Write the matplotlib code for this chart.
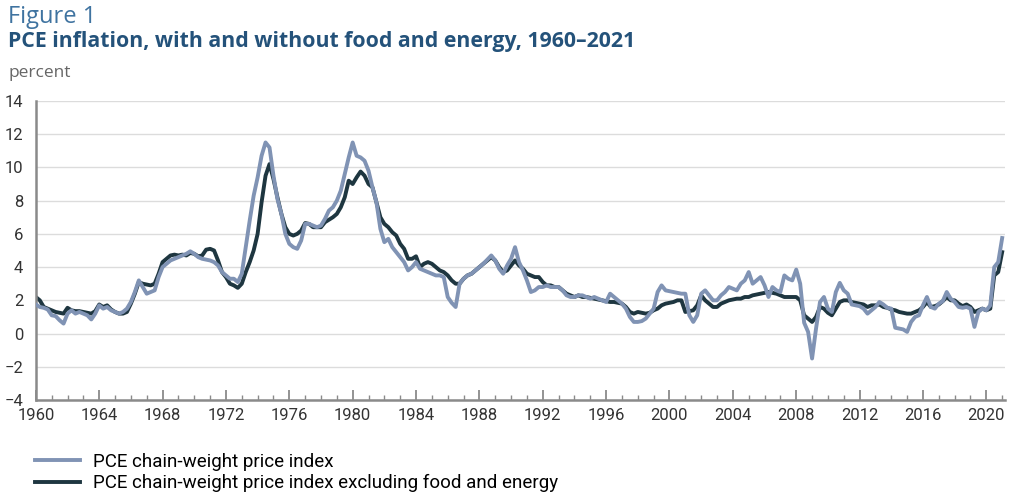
import numpy as np
import matplotlib
matplotlib.use("Agg")
import matplotlib.pyplot as plt
from matplotlib.ticker import MultipleLocator

# quarterly readings, 1960Q1 .. 2021Q1 (year-over-year percent change)
pce_all = [
    1.75, 1.6, 1.55, 1.45,   # 1960
    1.1, 1.05, 0.8, 0.6,     # 1961
    1.2, 1.4, 1.2, 1.3,      # 1962
    1.2, 1.1, 0.85, 1.2,     # 1963
    1.7, 1.5, 1.6, 1.4,      # 1964
    1.3, 1.2, 1.3, 1.5,      # 1965
    1.9, 2.5, 3.2, 2.8,      # 1966
    2.4, 2.5, 2.6, 3.4,      # 1967
    4.0, 4.2, 4.4, 4.5,      # 1968
    4.6, 4.7, 4.8, 4.95,     # 1969
    4.8, 4.6, 4.5, 4.45,     # 1970
    4.4, 4.3, 4.1, 3.7,      # 1971
    3.5, 3.3, 3.3, 3.1,      # 1972
    3.6, 5.2, 6.8, 8.3,      # 1973
    9.4, 10.7, 11.5, 11.2,   # 1974
    9.5, 8.1, 7.2, 6.0,      # 1975
    5.4, 5.2, 5.1, 5.6,      # 1976
    6.6, 6.6, 6.5, 6.4,      # 1977
    6.5, 6.9, 7.4, 7.6,      # 1978
    8.0, 8.6, 9.6, 10.6,     # 1979
    11.5, 10.7, 10.6, 10.4,  # 1980
    9.8, 8.8, 7.9, 6.3,      # 1981
    5.5, 5.7, 5.2, 4.9,      # 1982
    4.6, 4.3, 3.8, 4.0,      # 1983
    4.3, 3.9, 3.8, 3.7,      # 1984
    3.6, 3.5, 3.5, 3.4,      # 1985
    2.2, 1.85, 1.6, 3.0,     # 1986
    3.3, 3.5, 3.6, 3.8,      # 1987
    4.0, 4.2, 4.45, 4.7,     # 1988
    4.4, 3.9, 3.6, 4.1,      # 1989
    4.5, 5.2, 4.3, 3.8,      # 1990
    3.2, 2.5, 2.6, 2.8,      # 1991
    2.8, 2.9, 2.8, 2.8,      # 1992
    2.8, 2.6, 2.3, 2.2,      # 1993
    2.2, 2.3, 2.3, 2.2,      # 1994
    2.1, 2.2, 2.1, 2.0,      # 1995
    1.9, 2.4, 2.2, 2.0,      # 1996
    1.8, 1.5, 1.0, 0.7,      # 1997
    0.7, 0.75, 0.9, 1.2,     # 1998
    1.5, 2.5, 2.9, 2.6,      # 1999
    2.55, 2.5, 2.45, 2.4,    # 2000
    2.4, 1.1, 0.7, 1.1,      # 2001
    2.4, 2.6, 2.3, 2.0,      # 2002
    2.0, 2.3, 2.5, 2.8,      # 2003
    2.7, 2.6, 3.0, 3.2,      # 2004
    3.7, 3.0, 3.2, 3.4,      # 2005
    2.9, 2.2, 2.8, 2.6,      # 2006
    2.5, 3.5, 3.3, 3.2,      # 2007
    3.85, 3.0, 0.65, 0.1,    # 2008
    -1.5, 0.3, 1.9, 2.2,     # 2009
    1.5, 1.3, 2.5, 3.05,     # 2010
    2.6, 2.4, 1.75, 1.7,     # 2011
    1.65, 1.5, 1.2, 1.4,     # 2012
    1.6, 1.9, 1.75, 1.55,    # 2013
    1.5, 0.35, 0.3, 0.25,    # 2014
    0.1, 0.7, 1.0, 1.1,      # 2015
    1.7, 2.2, 1.6, 1.5,      # 2016
    1.8, 1.95, 2.5, 2.1,     # 2017
    1.9, 1.6, 1.55, 1.6,     # 2018
    1.5, 0.4, 1.3, 1.5,      # 2019
    1.4, 1.7, 4.0, 4.3,      # 2020
    5.75,                    # 2021
]

pce_core = [
    2.2, 2.0, 1.6, 1.5,      # 1960
    1.4, 1.3, 1.25, 1.2,     # 1961
    1.55, 1.4, 1.35, 1.35,   # 1962
    1.3, 1.25, 1.2, 1.35,    # 1963
    1.75, 1.6, 1.7, 1.45,    # 1964
    1.3, 1.2, 1.2, 1.3,      # 1965
    1.8, 2.4, 3.1, 3.0,      # 1966
    2.95, 2.9, 3.0, 3.6,     # 1967
    4.3, 4.5, 4.7, 4.75,     # 1968
    4.7, 4.75, 4.7, 4.85,    # 1969
    4.8, 4.65, 4.7, 5.05,    # 1970
    5.1, 5.0, 4.4, 3.7,      # 1971
    3.4, 3.0, 2.9, 2.75,     # 1972
    3.0, 3.7, 4.3, 5.0,      # 1973
    6.0, 7.9, 9.5, 10.2,     # 1974
    9.3, 8.2, 7.2, 6.4,      # 1975
    6.0, 5.9, 6.0, 6.2,      # 1976
    6.65, 6.6, 6.4, 6.4,     # 1977
    6.4, 6.7, 6.85, 7.0,     # 1978
    7.2, 7.6, 8.2, 9.2,      # 1979
    9.0, 9.4, 9.75, 9.5,     # 1980
    9.0, 8.8, 7.9, 7.0,      # 1981
    6.6, 6.4, 6.1, 5.9,      # 1982
    5.4, 5.1, 4.5, 4.5,      # 1983
    4.65, 4.0, 4.2, 4.3,     # 1984
    4.2, 4.0, 3.8, 3.7,      # 1985
    3.5, 3.2, 3.0, 3.0,      # 1986
    3.3, 3.5, 3.6, 3.8,      # 1987
    4.0, 4.2, 4.4, 4.6,      # 1988
    4.4, 4.0, 3.7, 3.8,      # 1989
    4.1, 4.4, 4.1, 3.9,      # 1990
    3.6, 3.5, 3.4, 3.4,      # 1991
    3.1, 2.9, 2.9, 2.8,      # 1992
    2.8, 2.6, 2.4, 2.3,      # 1993
    2.2, 2.3, 2.2, 2.2,      # 1994
    2.15, 2.1, 2.05, 2.0,    # 1995
    1.95, 1.9, 1.9, 1.85,    # 1996
    1.8, 1.6, 1.3, 1.2,      # 1997
    1.3, 1.25, 1.2, 1.25,    # 1998
    1.4, 1.5, 1.7, 1.8,      # 1999
    1.85, 1.9, 2.0, 2.0,     # 2000
    1.3, 1.35, 1.4, 1.7,     # 2001
    2.3, 2.0, 1.8, 1.6,      # 2002
    1.6, 1.8, 1.9, 2.0,      # 2003
    2.05, 2.1, 2.1, 2.2,     # 2004
    2.2, 2.3, 2.35, 2.4,     # 2005
    2.45, 2.5, 2.45, 2.4,    # 2006
    2.3, 2.2, 2.2, 2.2,      # 2007
    2.2, 2.0, 1.1, 0.9,      # 2008
    0.7, 1.0, 1.6, 1.5,      # 2009
    1.25, 1.1, 1.5, 1.9,     # 2010
    2.0, 2.0, 1.9, 1.85,     # 2011
    1.8, 1.75, 1.6, 1.7,     # 2012
    1.7, 1.75, 1.6, 1.55,    # 2013
    1.45, 1.4, 1.3, 1.25,    # 2014
    1.2, 1.2, 1.3, 1.4,      # 2015
    1.6, 1.9, 1.6, 1.65,     # 2016
    1.75, 1.95, 2.2, 2.0,    # 2017
    2.0, 1.8, 1.65, 1.75,    # 2018
    1.6, 1.3, 1.4, 1.5,      # 2019
    1.4, 1.5, 3.5, 3.7,      # 2020
    4.9,                     # 2021
]

dates = 1960 + 0.25 * np.arange(len(pce_all))

label_all = "PCE chain-weight price index"
label_core = "PCE chain-weight price index excluding food and energy"
fig_label = "Figure 1"
title = "PCE inflation, with and without food and energy, 1960\u20132021"
y_label = "percent"

c_all = "#8093b4"
c_core = "#1e3640"
c_title = "#24527a"

plt.rcParams['font.family'] = ['Open Sans', 'DejaVu Sans']
narrow = ['Roboto', 'DejaVu Sans']

fig = plt.figure(figsize=(10.24, 4.96), dpi=100)
ax = fig.add_axes([0.035, 0.1935, 0.946, 0.603])

ax.plot(dates, pce_core, color=c_core, lw=2.8, label=label_core, zorder=2)
ax.plot(dates, pce_all, color=c_all, lw=2.8, label=label_all, zorder=3)

ax.set_xlim(1960, 2021.15)
ax.set_ylim(-4, 14)
ax.yaxis.set_major_locator(MultipleLocator(2))
ax.xaxis.set_major_locator(MultipleLocator(4))
ax.xaxis.set_minor_locator(MultipleLocator(1))
ax.grid(axis='y', color='#dcdcdc', lw=1)
ax.set_axisbelow(True)

for s in ['top', 'right']:
    ax.spines[s].set_visible(False)
for s in ['left', 'bottom']:
    ax.spines[s].set_color('#8a8a8a')
    ax.spines[s].set_linewidth(1.8)

ax.tick_params(axis='y', length=0, pad=9, labelsize=12, labelcolor='#333333')
ax.tick_params(axis='x', which='major', direction='in', length=7, width=1.3,
               color='#8a8a8a', pad=6, labelsize=12, labelcolor='#333333')
ax.tick_params(axis='x', which='minor', direction='in', length=3.5, width=1.0,
               color='#8a8a8a')
ax.set_yticks(np.arange(-4, 15, 2))
ax.set_yticklabels([f"{v}".replace('-', '\u2212') for v in range(-4, 15, 2)])
for t in ax.get_xticklabels() + ax.get_yticklabels():
    t.set_family(narrow)

fig.text(0.008, 0.965, fig_label, fontsize=17, color='#3f73a0', va='center')
fig.text(0.008, 0.917, title, fontsize=15.3, fontweight='bold', color=c_title, va='center')
fig.text(0.008, 0.853, y_label, fontsize=12.5, color='#666666', va='center')

handles = [ax.lines[1], ax.lines[0]]
fig.legend(handles, [label_all, label_core], loc='upper left',
           bbox_to_anchor=(0.027, 0.102), frameon=False,
           handlelength=2.4, labelspacing=0.18, borderaxespad=0,
           handletextpad=0.7, prop={'family': narrow, 'size': 13.5})

fig.savefig("out.png", dpi=100, facecolor='white')
